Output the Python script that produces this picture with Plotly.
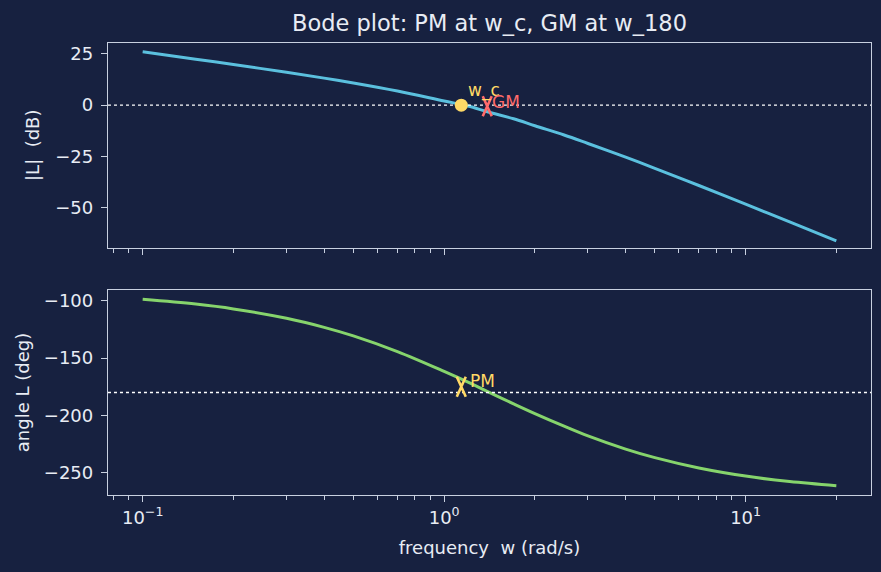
import math
import plotly.graph_objects as go
from plotly.subplots import make_subplots

# Data
freq = [0.1, 0.15, 0.2, 0.3, 0.4, 0.5, 0.7, 1.0, 1.2, 1.4, 1.7, 2.0, 2.5, 3.0, 4.0, 5.0, 7.0, 10.0, 14.0, 20.0]
mag_db = [25.97, 22.38, 19.79, 16.01, 13.17, 10.81, 6.89, 2.04, -0.40, -3.35, -6.60, -10.00, -14.50, -18.64, -25.31, -30.71, -39.09, -48.17, -56.84, -66.07]
phase_deg = [-98.6, -102.8, -107.0, -115.2, -123.1, -130.6, -144.3, -161.6, -171.0, -179.5, -189.9, -198.4, -209.4, -217.9, -229.4, -236.9, -245.9, -253.0, -257.8, -261.4]

w_c = 1.14
mag_at_wc = 0.0
pm_marker_deg = -175.0
w_180 = 1.39
gm_marker_db = -0.5

x_tickvals = [0.1, 1, 10]
x_ticktext = ["10<sup>\u22121</sup>", "10<sup>0</sup>", "10<sup>1</sup>"]
minor_vals = [0.08, 0.09] + [k * 0.1 for k in range(2, 10)] + list(range(2, 10)) + [20]
y1_ticks = [25, 0, -25, -50]
y2_ticks = [-100, -150, -200, -250]

BG = "#172140"
FG = "#e8ecf4"
SPINE = "#c8d0e0"
BLUE = "#5bc0de"
GREEN = "#86d46c"
YELLOW = "#ffd966"
RED = "#ff6b6b"
FONT = "DejaVu Sans"

W, H = 881, 572
L, R = 108, 871
T1, B1 = 42.5, 248
T2, B2 = 290, 495

fig = make_subplots(rows=2, cols=1)

fig.add_trace(go.Scatter(x=freq, y=mag_db, mode="lines", line=dict(color=BLUE, width=3, shape="spline"),
                         showlegend=False), row=1, col=1)
fig.add_trace(go.Scatter(x=freq, y=phase_deg, mode="lines", line=dict(color=GREEN, width=3, shape="spline"),
                         showlegend=False), row=2, col=1)

# reference lines
fig.add_trace(go.Scatter(x=[0.07, 30], y=[0, 0], mode="lines", line=dict(color="#ffffff", width=1.3, dash="dot"),
                         showlegend=False, hoverinfo="skip"), row=1, col=1)
fig.add_trace(go.Scatter(x=[0.07, 30], y=[-180, -180], mode="lines", line=dict(color="#ffffff", width=1.3, dash="dot"),
                         showlegend=False, hoverinfo="skip"), row=2, col=1)

# crossover dot
fig.add_trace(go.Scatter(x=[w_c], y=[mag_at_wc], mode="markers",
                         marker=dict(color=YELLOW, size=13, symbol="circle"), showlegend=False), row=1, col=1)

# tall narrow X markers (pixel-sized, anchored at data points)
xpath = "M -4.5 -10 L 4.5 10 M -4.5 10 L 4.5 -10"
fig.add_shape(type="path", xref="x", yref="y", xsizemode="pixel", ysizemode="pixel",
              xanchor=w_180, yanchor=gm_marker_db, path=xpath,
              line=dict(color=RED, width=2.6))
fig.add_shape(type="path", xref="x2", yref="y2", xsizemode="pixel", ysizemode="pixel",
              xanchor=w_c, yanchor=pm_marker_deg, path=xpath,
              line=dict(color=YELLOW, width=2.6))

xr = [-1.115, 1.416]
common_x = dict(type="log", range=xr, showgrid=False, zeroline=False, showline=True, mirror=True,
                linecolor=SPINE, linewidth=1.3, ticks="outside", ticklen=6, tickwidth=1.3, tickcolor=SPINE,
                tickmode="array", tickvals=x_tickvals, ticktext=x_ticktext,
                minor=dict(tickvals=minor_vals, ticks="outside", ticklen=3.5, tickwidth=1, tickcolor=SPINE),
                tickfont=dict(family=FONT, size=18, color=FG))
fig.update_xaxes(**common_x, showticklabels=False, row=1, col=1)
fig.update_xaxes(**common_x, row=2, col=1)
fig.update_xaxes(title=dict(text="frequency\u00a0 w (rad/s)", font=dict(family=FONT, size=18, color=FG), standoff=14),
                 row=2, col=1)

common_y = dict(showgrid=False, zeroline=False, showline=True, mirror=True, linecolor=SPINE, linewidth=1.3,
                ticks="outside", ticklen=6, tickwidth=1.3, tickcolor=SPINE, ticklabelstandoff=4,
                tickfont=dict(family=FONT, size=18, color=FG), tickmode="array")
fig.update_yaxes(**common_y, range=[-69.5, 30.5], tickvals=y1_ticks,
                 ticktext=[str(v).replace("-", "\u2212") for v in y1_ticks],
                 title=dict(text="|L|\u00a0 (dB)", font=dict(family=FONT, size=18, color=FG), standoff=10), row=1, col=1)
fig.update_yaxes(**common_y, range=[-269.5, -90.5], tickvals=y2_ticks,
                 ticktext=[str(v).replace("-", "\u2212") for v in y2_ticks],
                 title=dict(text="angle L (deg)", font=dict(family=FONT, size=18, color=FG), standoff=9), row=2, col=1)

fig.update_layout(
    xaxis=dict(domain=[L / W, R / W]),
    xaxis2=dict(domain=[L / W, R / W]),
    yaxis=dict(domain=[1 - B1 / H, 1 - T1 / H]),
    yaxis2=dict(domain=[1 - B2 / H, 1 - T2 / H]),
)

fig.add_annotation(x=math.log10(w_c), y=mag_at_wc, xref="x", yref="y", text="w_c", showarrow=False,
                   xanchor="left", yanchor="bottom", xshift=5, yshift=2,
                   font=dict(family=FONT, size=17, color=YELLOW))
fig.add_annotation(x=math.log10(w_180), y=gm_marker_db, xref="x", yref="y", text="GM", showarrow=False,
                   xanchor="left", yanchor="middle", xshift=3, yshift=4,
                   font=dict(family=FONT, size=17, color=RED))
fig.add_annotation(x=math.log10(w_c), y=pm_marker_deg, xref="x2", yref="y2", text="PM", showarrow=False,
                   xanchor="left", yanchor="middle", xshift=7, yshift=6,
                   font=dict(family=FONT, size=17, color=YELLOW))

fig.update_layout(
    width=W, height=H, autosize=False,
    margin=dict(l=0, r=0, t=0, b=0),
    paper_bgcolor=BG, plot_bgcolor=BG,
    title=dict(text="Bode plot: PM at w_c, GM at w_180", x=(L + R) / 2 / W, xanchor="center",
               y=1 - 23 / H, yanchor="middle", font=dict(family=FONT, size=22.5, color=FG)),
    showlegend=False,
)

fig.write_html("out.html")
